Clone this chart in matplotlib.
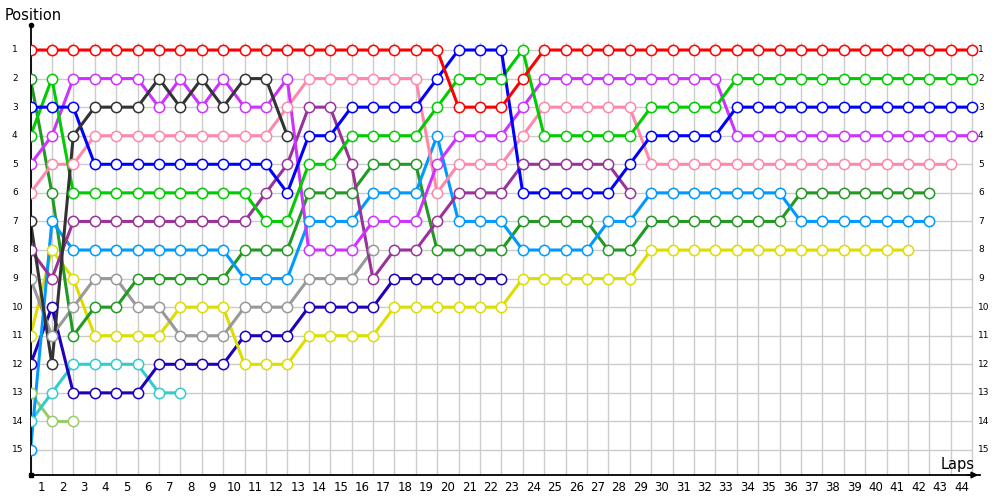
import matplotlib
matplotlib.use("Agg")
import matplotlib.pyplot as plt

laps = list(range(0, 45))
lap_labels = [str(i) for i in range(1, 45)]
positions = list(range(1, 16))

red = [1,1,1,1,1,1,1,1,1,1, 1,1,1,1,1,1,1,1,1,1, 3,3,3,2,1,1,1,1,1,1, 1,1,1,1,1,1,1,1,1,1, 1,1,1,1,1]
blue = [3,3,3,5,5,5,5,5,5,5, 5,5,6,4,4,3,3,3,3,2, 1,1,1,6,6,6,6,6,5,4, 4,4,4,3,3,3,3,3,3,3, 3,3,3,3,3]
green = [4,2,6,6,6,6,6,6,6,6, 6,7,7,5,5,4,4,4,4,3, 2,2,2,1,4,4,4,4,4,3, 3,3,3,2,2,2,2,2,2,2, 2,2,2,2,2]
magenta = [5,4,2,2,2,2,3,2,3,2, 3,3,2,8,8,8,7,7,7,5, 4,4,4,3,2,2,2,2,2,2, 2,2,2,4,4,4,4,4,4,4, 4,4,4,4,4]
darkgray = [7,12,4,3,3,3,2,3,2,3, 2,2,4]
pink = [6,5,5,4,4,4,4,4,4,4, 4,4,3,2,2,2,2,2,2,6, 5,5,5,4,3,3,3,3,3,5, 5,5,5,5,5,5,5,5,5,5, 5,5,5,5]
purple = [8,9,7,7,7,7,7,7,7,7, 7,6,5,3,3,5,9,8,8,7, 6,6,6,5,5,5,5,5,6]
lightblue = [15,7,8,8,8,8,8,8,8,8, 9,9,9,7,7,7,6,6,6,4, 7,7,7,8,8,8,8,7,7,6, 6,6,6,6,6,6,7,7,7,7, 7,7,7]
darkgreen = [2,6,11,10,10,9,9,9,9,9, 8,8,8,6,6,6,5,5,5,8, 8,8,8,7,7,7,7,8,8,7, 7,7,7,7,7,7,6,6,6,6, 6,6,6]
gray = [9,11,10,9,9,10,10,11,11,11, 10,10,10,9,9,9,8]
yellow = [11,8,9,11,11,11,11,10,10,10, 12,12,12,11,11,11,11,10,10,10, 10,10,10,9,9,9,9,9,9,8, 8,8,8,8,8,8,8,8,8,8, 8,8]
navy = [12,10,13,13,13,13,12,12,12,12, 11,11,11,10,10,10,10,9,9,9, 9,9,9]
teal = [14,13,12,12,12,12,13,13]
olive = [13,14,14]

series = [
    (olive, '#99CC66'),
    (teal, '#33CCCC'),
    (navy, '#2200BB'),
    (yellow, '#DDDD00'),
    (gray, '#999999'),
    (darkgreen, '#229922'),
    (lightblue, '#0099FF'),
    (purple, '#993399'),
    (pink, '#FF88AA'),
    (magenta, '#CC33FF'),
    (green, '#00CC00'),
    (blue, '#0000FF'),
    (darkgray, '#333333'),
    (red, '#FF0000'),
]

px = 21.4  # pixels per lap
fig = plt.figure(figsize=(10, 5), dpi=100)
x_left = 30.5
x_right = 980
ax = fig.add_axes([x_left / 1000, 25 / 500, (x_right - x_left) / 1000, 450 / 500])
xmax = (x_right - x_left) / px
ymin_pos = 0.125
ymax_pos = 15.875
ax.set_xlim(0, xmax)
ax.set_ylim(ymax_pos, ymin_pos)

# grid
grid_c = '#cccccc'
ax.vlines(laps, 0.72, ymax_pos, colors=grid_c, lw=1, zorder=0)
ax.hlines(positions, 0, laps[-1], colors=grid_c, lw=1, zorder=0)

for vals, col in series:
    xs = laps[:len(vals)]
    ax.plot(xs, vals, '-', color=col, lw=2.2, zorder=2, solid_capstyle='round')
    ax.plot(xs, vals, 'o', ms=7.4, mfc='white', mec=col, mew=1.1, zorder=3)

for s in ['top', 'right']:
    ax.spines[s].set_visible(False)
for s in ['left', 'bottom']:
    ax.spines[s].set_color('black')
    ax.spines[s].set_linewidth(1.3)

ax.set_xticks([l - 0.5 for l in range(1, 45)])
ax.set_xticklabels(lap_labels, fontsize=8.5)
ax.tick_params(axis='x', length=0, pad=4)
ax.set_yticks([])

for p in positions:
    ax.text((12 - x_left) / px, p, str(p), fontsize=6.5, ha='left', va='center', clip_on=False)
    ax.text((978 - x_left) / px, p, str(p), fontsize=6.5, ha='left', va='center', clip_on=False)

# axis end decorations
ax.plot([0], [ymin_pos], 'o', color='black', ms=3, clip_on=False, zorder=5)
ax.plot([0], [ymax_pos], 's', color='black', ms=2.5, clip_on=False, zorder=5)
ax.annotate('', xy=(xmax + 0.05, ymax_pos), xytext=(xmax - 0.7, ymax_pos),
            arrowprops=dict(arrowstyle='-|>', color='black', lw=1.3, mutation_scale=9),
            annotation_clip=False)

fig.text(5 / 1000, 1 - 15 / 500, 'Position', fontsize=10.5, ha='left', va='center')
fig.text(975 / 1000, 1 - 465 / 500, 'Laps', fontsize=10.5, ha='right', va='center')

fig.savefig('out.png', dpi=100)
